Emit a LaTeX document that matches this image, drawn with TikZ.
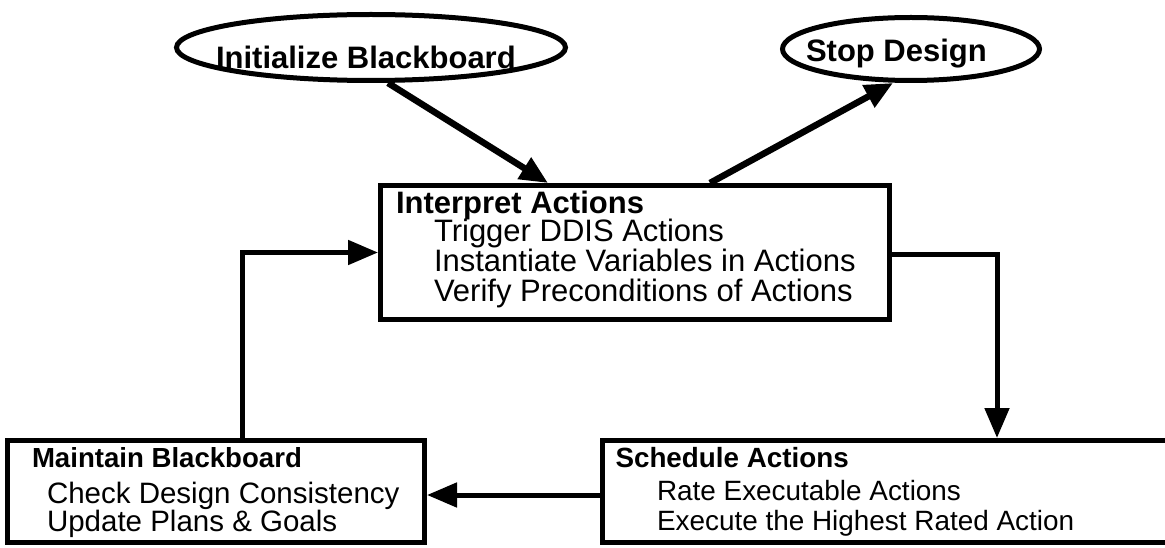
\documentclass[tikz,border=0pt]{standalone}
\usepackage{fontspec}
\setmainfont{Liberation Sans}
\usetikzlibrary{arrows.meta,shapes.geometric}
\begin{document}
\begin{tikzpicture}[x=1pt,y=-1pt,
  box/.style={draw,line width=5pt,rectangle,inner sep=0pt},
  oval/.style={draw,line width=5pt,ellipse,inner sep=0pt},
  txt/.style={anchor=base west,inner sep=0pt,outer sep=0pt},
  hd/.style={txt,font=\fontsize{#1}{#1}\selectfont\bfseries},
  it/.style={txt,font=\fontsize{#1}{#1}\selectfont},
  flow/.style={line width=5pt,-{Triangle[length=30pt,width=24pt]}},
  diag/.style={line width=6.5pt,-{Triangle[length=28pt,width=24pt]}}]
\useasboundingbox[fill=white] (0,0) rectangle (1165,548);

% start and stop states
\node[oval,minimum width=389pt,minimum height=66pt] (init) at (371,47.5) {};
\node[oval,minimum width=257pt,minimum height=63pt] (stop) at (911,49) {};
\node[hd=31] (initT) at (216,68.3) {Initialize Blackboard};
\node[hd=31] (stopT) at (806,61.7) {Stop Design};

% process boxes
\node[box,minimum width=509pt,minimum height=134pt] (interp) at (635,252.5) {};
\node[box,minimum width=417pt,minimum height=102pt] (maint) at (216,491.5) {};
\node[box,minimum width=580pt,minimum height=102pt] (sched) at (892.5,491.5) {};

% box contents
\node[hd=31] (interpT) at (396,213.3) {Interpret Actions};
\node[it=31] (interp1) at (434,241.7) {Trigger DDIS Actions};
\node[it=31] (interp2) at (434,271.7) {Instantiate Variables in Actions};
\node[it=31] (interp3) at (434,301.7) {Verify Preconditions of Actions};

\node[hd=27.6] (maintT) at (32,467) {Maintain Blackboard};
\node[it=29.5] (maint1) at (47,503) {Check Design Consistency};
\node[it=29.5] (maint2) at (47,531.7) {Update Plans \& Goals};

\node[hd=27.8] (schedT) at (615.5,467) {Schedule Actions};
\node[it=27.9] (sched1) at (657,500) {Rate Executable Actions};
\node[it=27.9] (sched2) at (657,530) {Execute the Highest Rated Action};

% connectors
\draw[diag] ([xshift=17pt]init.south) -- ([xshift=-87pt]interp.north);
\draw[diag] ([xshift=75pt]interp.north) -- ([xshift=-18pt]stop.south);
\draw[flow] ([yshift=-2pt]interp.east) -| ([xshift=104.5pt]sched.north);
\draw[flow] ([yshift=-3.5pt]sched.west) -- ([yshift=-3.5pt]maint.east);
\draw[flow] ([xshift=26pt]maint.north) |- (interp.west);
\end{tikzpicture}
\end{document}
